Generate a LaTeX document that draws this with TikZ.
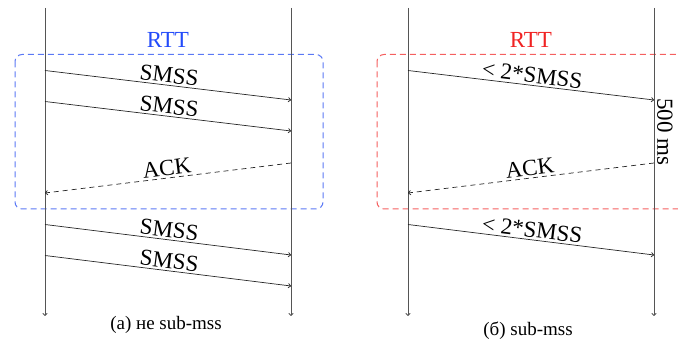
\documentclass[tikz,border=0pt]{standalone}
\usepackage{fontspec}
\setmainfont{Liberation Serif}
\usetikzlibrary{arrows.meta}
\definecolor{boxblue}{RGB}{90,120,245}
\definecolor{txtblue}{RGB}{35,75,250}
\definecolor{boxred}{RGB}{245,95,95}
\definecolor{txtred}{RGB}{240,35,35}
\definecolor{tlgray}{RGB}{85,85,85}
\tikzset{
  timeline/.style={draw=tlgray, line width=0.9pt, -{To[length=3pt,width=5pt]}},
  msg/.style={draw=black!85, line width=0.7pt, -{To[length=3pt,width=5pt]}},
  ackmsg/.style={msg, dash pattern=on 5pt off 4pt},
  lbl/.style={sloped, above, inner sep=2pt, font=\fontsize{23}{25}\selectfont},
  rttlbl/.style={font=\fontsize{23}{25}\selectfont, inner sep=0pt},
  rttbox/.style={line width=1pt, dash pattern=on 6pt off 4pt, rounded corners=7pt},
  caption/.style={font=\fontsize{19}{21}\selectfont, inner sep=0pt}
}
\begin{document}
\begin{tikzpicture}[x=1pt,y=-1pt]
\useasboundingbox (0,0) rectangle (678,347);
\clip (0,0) rectangle (678,347);
% ---------- left diagram ----------
\coordinate (AL0) at (45,8);   \coordinate (AL9) at (45,316);
\coordinate (AR0) at (291,8);  \coordinate (AR9) at (291,316);
\draw[boxblue, rttbox] (15,54.5) rectangle (323,209);
\node[rttlbl, text=txtblue] (rttA) at (168,40) {RTT};
\draw[timeline] (AL0) -- (AL9);
\draw[timeline] (AR0) -- (AR9);
\coordinate (a1s) at (45,70.5);  \coordinate (a1e) at (291,100);
\coordinate (a2s) at (45,101.5); \coordinate (a2e) at (291,131);
\coordinate (a3s) at (291,163);  \coordinate (a3e) at (45,193);
\coordinate (a4s) at (45,224.5); \coordinate (a4e) at (291,255);
\coordinate (a5s) at (45,255.5); \coordinate (a5e) at (291,286);
\draw[msg] (a1s) -- node[lbl] (la1) {SMSS} (a1e);
\draw[msg] (a2s) -- node[lbl] (la2) {SMSS} (a2e);
\draw[ackmsg] (a3s) -- node[lbl] (la3) {ACK} (a3e);
\draw[msg] (a4s) -- node[lbl] (la4) {SMSS} (a4e);
\draw[msg] (a5s) -- node[lbl] (la5) {SMSS} (a5e);
\node[caption] (capA) at (166,325) {(a) не sub-mss};
% ---------- right diagram ----------
\coordinate (BL0) at (408,8);   \coordinate (BL9) at (408,316);
\coordinate (BR0) at (654,8);   \coordinate (BR9) at (654,316);
\draw[boxred, rttbox] (377,54.5) rectangle (700,209);
\node[rttlbl, text=txtred] (rttB) at (531,40) {RTT};
\draw[timeline] (BL0) -- (BL9);
\draw[timeline] (BR0) -- (BR9);
\coordinate (b1s) at (408,70.5);  \coordinate (b1e) at (654,100);
\coordinate (b3s) at (654,163);   \coordinate (b3e) at (408,193);
\coordinate (b4s) at (408,224.5); \coordinate (b4e) at (654,255);
\draw[msg] (b1s) -- node[lbl] (lb1) {< 2*SMSS} (b1e);
\draw[ackmsg] (b3s) -- node[lbl] (lb3) {ACK} (b3e);
\draw[msg] (b4s) -- node[lbl] (lb4) {< 2*SMSS} (b4e);
\node[rotate=-90, inner sep=0pt, font=\fontsize{23}{25}\selectfont] (ms) at (665,132) {500 ms};
\node[caption] (capB) at (528,331) {(б) sub-mss};
\end{tikzpicture}
\end{document}
